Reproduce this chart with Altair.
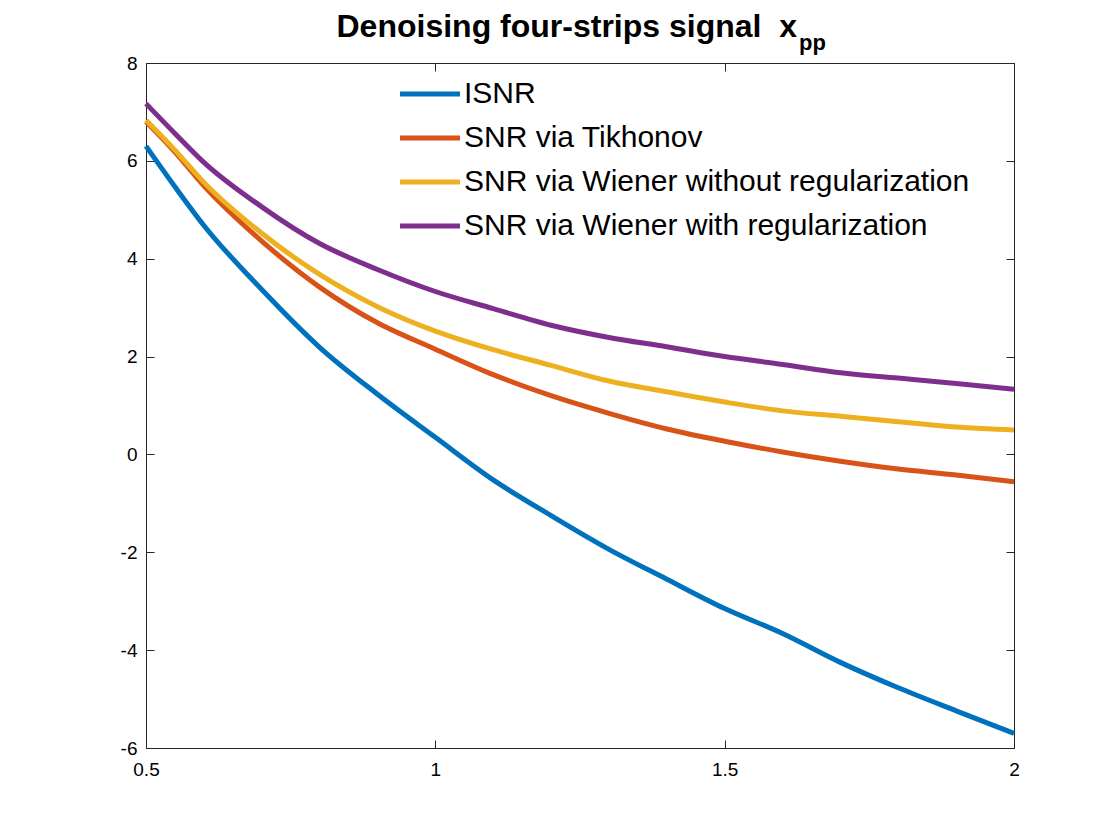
import altair as alt
import pandas as pd

x_vals = [0.5, 0.55, 0.6, 0.7, 0.8, 0.9, 1.0, 1.1, 1.2, 1.3, 1.4, 1.5, 1.6, 1.7, 1.8, 1.9, 2.0]
isnr = [6.30, 5.47, 4.68, 3.37, 2.19, 1.23, 0.35, -0.52, -1.25, -1.94, -2.55, -3.15, -3.66, -4.25, -4.77, -5.24, -5.70]
tikhonov = [6.80, 6.18, 5.49, 4.36, 3.42, 2.69, 2.15, 1.63, 1.20, 0.84, 0.52, 0.27, 0.05, -0.14, -0.30, -0.42, -0.56]
wiener_noreg = [6.83, 6.22, 5.56, 4.52, 3.68, 3.02, 2.52, 2.14, 1.82, 1.50, 1.28, 1.07, 0.89, 0.78, 0.67, 0.56, 0.50]
wiener_reg = [7.17, 6.56, 5.97, 5.06, 4.31, 3.78, 3.33, 2.98, 2.64, 2.39, 2.20, 2.00, 1.84, 1.67, 1.56, 1.45, 1.33]

series_names = ["ISNR", "SNR via Tikhonov", "SNR via Wiener without regularization",
                "SNR via Wiener with regularization"]
colors = ["#0072BD", "#D95319", "#EDB120", "#7E2F8E"]
x_ticks = [0.5, 1, 1.5, 2]
y_ticks = [-6, -4, -2, 0, 2, 4, 6, 8]
title_main = "Denoising four-strips signal \u00a0x"
title_sub = "pp"

rows = []
for name, vals in zip(series_names, [isnr, tikhonov, wiener_noreg, wiener_reg]):
    for xv, yv in zip(x_vals, vals):
        rows.append({"x": xv, "y": yv, "series": name})
df = pd.DataFrame(rows)

FONT = "Liberation Sans"
W, H = 868, 685
xscale = alt.Scale(domain=[0.5, 2], nice=False, zero=False)
yscale = alt.Scale(domain=[-6, 8], nice=False, zero=False)

common_axis = dict(title=None, domain=False, grid=False, tickSize=8, offset=-8,
                   tickColor="#262626", tickWidth=1, labelFont=FONT, labelFontSize=19,
                   labelColor="#000000", labelExpr="datum.value + ''", labelFlush=False,
                   labelOverlap=False)

lines = alt.Chart(df).mark_line(strokeWidth=5, interpolate="monotone").encode(
    x=alt.X("x:Q", scale=xscale,
            axis=alt.Axis(orient="bottom", values=x_ticks, labelPadding=12, **common_axis)),
    y=alt.Y("y:Q", scale=yscale,
            axis=alt.Axis(orient="left", values=y_ticks, labelPadding=9, **common_axis)),
    color=alt.Color("series:N", scale=alt.Scale(domain=series_names, range=colors),
                    legend=alt.Legend(orient="none", legendX=255, legendY=2, title=None,
                                      symbolType="M-1.134,0H1.134", symbolSize=2800,
                                      symbolStrokeWidth=5, labelFont=FONT,
                                      labelFontSize=30, labelColor="#000000",
                                      labelOffset=5, rowPadding=0, padding=0,
                                      labelLimit=800)),
)

frame_axis = dict(title=None, domain=False, grid=False, tickSize=8, offset=-8,
                  tickColor="#262626", tickWidth=1, labels=False)
ghost = alt.Chart(df).mark_line(opacity=0).encode(
    x=alt.X("x:Q", scale=xscale, axis=alt.Axis(orient="top", values=x_ticks, **frame_axis)),
    y=alt.Y("y:Q", scale=yscale, axis=alt.Axis(orient="right", values=y_ticks, **frame_axis)),
    detail="series:N",
)

title_df = pd.DataFrame({"t": [title_main]})
sub_df = pd.DataFrame({"t": [title_sub]})
title_text = alt.Chart(title_df).mark_text(
    font=FONT, fontWeight="bold", fontSize=32, align="right", baseline="alphabetic",
    color="#000000"
).encode(text="t:N", x=alt.value(651), y=alt.value(-26))
sub_text = alt.Chart(sub_df).mark_text(
    font=FONT, fontWeight="bold", fontSize=22, align="left", baseline="alphabetic",
    color="#000000"
).encode(text="t:N", x=alt.value(653), y=alt.value(-13))

chart = alt.layer(lines, ghost, title_text, sub_text).resolve_axis(
    x="independent", y="independent"
).properties(
    width=W, height=H,
    autosize=alt.AutoSizeParams(type="none"),
    padding={"left": 138, "top": 55, "right": 60, "bottom": 60},
).configure_view(stroke="#262626", strokeWidth=1)

chart.save("out.html", embed_options={"renderer": "svg", "actions": False})
